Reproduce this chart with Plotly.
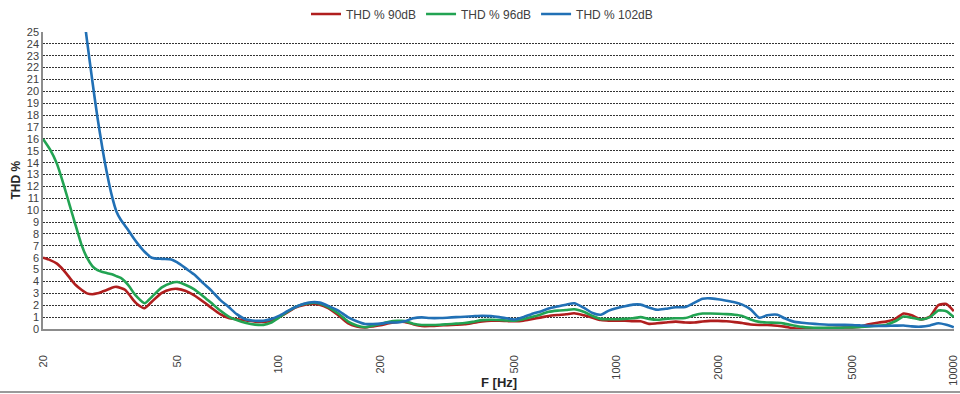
import plotly.graph_objects as go
import math

freq_hz = [20, 21, 22, 23, 24, 25, 26, 27, 28, 29, 30, 31, 32, 33, 34, 35, 36, 37, 38,
           40, 42, 45, 48, 50, 53, 56, 60, 63, 67, 71, 75, 80, 85, 90, 95,
           100, 106, 112, 118, 125, 132, 140, 150, 160, 170, 180, 190, 200, 212, 224, 236,
           250, 265, 280, 300, 315, 335, 355, 375, 400, 425, 450, 475, 500, 530, 560, 600,
           630, 670, 710, 750, 800, 850, 900, 950,
           1000, 1060, 1120, 1180, 1250, 1320, 1400, 1500, 1600, 1700, 1800, 1900, 2000,
           2120, 2240, 2360, 2500, 2650, 2800, 3000, 3150, 3350, 3550, 3750, 4000, 4250,
           4500, 4750, 5000, 5300, 5600, 6000, 6300, 6700, 7100, 7500, 8000, 8500, 9000,
           9500, 10000]

thd_90db = [6.0, 5.8, 5.5, 4.95, 4.3, 3.7, 3.3, 3.0, 2.93, 3.0, 3.15, 3.3, 3.48, 3.55, 3.45, 3.3, 2.9, 2.45, 2.1,
            1.75, 2.3, 3.05, 3.35, 3.38, 3.2, 2.85, 2.25, 1.8, 1.25, 0.92, 0.82, 0.72, 0.62, 0.6, 0.7,
            1.0, 1.4, 1.8, 2.0, 2.1, 2.05, 1.75, 1.15, 0.5, 0.22, 0.14, 0.22, 0.32, 0.48, 0.6, 0.6,
            0.4, 0.25, 0.25, 0.3, 0.33, 0.36, 0.4, 0.5, 0.63, 0.7, 0.7, 0.67, 0.65, 0.7, 0.82, 0.98,
            1.1, 1.18, 1.24, 1.32, 1.15, 0.95, 0.75, 0.7,
            0.7, 0.7, 0.66, 0.65, 0.43, 0.48, 0.55, 0.62, 0.55, 0.55, 0.63, 0.68, 0.68,
            0.65, 0.58, 0.5, 0.38, 0.34, 0.34, 0.27, 0.2, 0.06, 0.03, 0.02, 0.05, 0.07,
            0.1, 0.12, 0.14, 0.2, 0.4, 0.55, 0.62, 0.85, 1.3, 1.15, 0.8, 1.05, 2.0,
            2.1, 1.5]

thd_96db = [16.0, 15.1, 13.9, 12.2, 10.4, 8.7, 7.1, 6.0, 5.3, 4.95, 4.8, 4.7, 4.6, 4.45, 4.3, 4.0, 3.6, 3.1, 2.7,
            2.17, 2.7, 3.5, 3.88, 3.95, 3.7, 3.35, 2.7, 2.2, 1.55, 1.05, 0.75, 0.5, 0.37, 0.35, 0.55,
            0.95, 1.45, 1.85, 2.08, 2.2, 2.15, 1.85, 1.3, 0.65, 0.3, 0.15, 0.28, 0.42, 0.6, 0.68, 0.68,
            0.45, 0.34, 0.34, 0.36, 0.4, 0.45, 0.5, 0.6, 0.75, 0.78, 0.76, 0.72, 0.7, 0.82, 1.0, 1.25,
            1.45, 1.55, 1.6, 1.66, 1.45, 1.1, 0.85, 0.82,
            0.82, 0.85, 0.9, 1.0, 0.85, 0.78, 0.85, 0.9, 0.92, 1.15, 1.3, 1.3, 1.28,
            1.25, 1.2, 1.1, 0.8, 0.6, 0.55, 0.52, 0.45, 0.3, 0.18, 0.12, 0.1, 0.1,
            0.1, 0.12, 0.14, 0.18, 0.22, 0.28, 0.34, 0.65, 1.05, 0.95, 0.8, 1.0, 1.55,
            1.5, 1.0]

freq_hz_102 = freq_hz[6:]
thd_102db = [28.0, 24.3, 20.9, 17.8, 15.2, 13.0, 11.2, 9.9, 9.2, 8.7, 8.2, 7.7, 7.25,
             6.5, 6.0, 5.9, 5.85, 5.6, 5.1, 4.6, 3.8, 3.25, 2.45, 1.85, 1.25, 0.8, 0.7, 0.7, 0.85,
             1.1, 1.5, 1.85, 2.1, 2.25, 2.22, 1.95, 1.55, 1.0, 0.65, 0.42, 0.42, 0.45, 0.55, 0.55, 0.65,
             0.9, 0.98, 0.92, 0.92, 0.95, 1.0, 1.03, 1.07, 1.12, 1.08, 1.0, 0.9, 0.8, 1.0, 1.25, 1.5,
             1.72, 1.9, 2.05, 2.17, 1.8, 1.35, 1.2, 1.55,
             1.75, 1.92, 2.05, 2.05, 1.8, 1.62, 1.7, 1.83, 1.85, 2.2, 2.55, 2.58, 2.5,
             2.38, 2.25, 2.05, 1.65, 0.95, 1.15, 1.2, 0.9, 0.62, 0.52, 0.46, 0.4, 0.36,
             0.35, 0.35, 0.34, 0.3, 0.26, 0.25, 0.26, 0.28, 0.3, 0.22, 0.2, 0.3, 0.48,
             0.35, 0.14]

x_tick_vals = [20, 50, 100, 200, 500, 1000, 2000, 5000, 10000]
x_tick_text = ["20", "50", "100", "200", "500", "1000", "2000", "5000", "10000"]
y_tick_vals = list(range(0, 26))

series = [
    ("THD % 90dB", freq_hz, thd_90db, "#B01E1E"),
    ("THD % 96dB", freq_hz, thd_96db, "#22A352"),
    ("THD % 102dB", freq_hz_102, thd_102db, "#2170B5"),
]

FONT = "Liberation Sans, Arial, sans-serif"
W, H = 960, 394
L, R, T, B = 43, 6, 32, 65
pw, ph = W - L - R, H - T - B

fig = go.Figure()
for name, xs, ys, col in series:
    fig.add_trace(go.Scatter(x=xs, y=ys, name=name, mode="lines",
                             line=dict(color=col, width=2.6, shape="spline", smoothing=0.6)))

fig.update_layout(
    width=W, height=H,
    margin=dict(l=L, r=R, t=T, b=B, autoexpand=False),
    paper_bgcolor="white", plot_bgcolor="white",
    font=dict(family=FONT, size=11, color="#404040"),
    showlegend=True,
    legend=dict(orientation="h", x=(482 - L) / pw, xanchor="center", y=1 + (T - 14) / ph,
                yanchor="middle", font=dict(family=FONT, size=12, color="#404040"),
                itemwidth=30, tracegroupgap=0),
    xaxis=dict(type="log", range=[math.log10(20), math.log10(10000) + 0.0005],
               tickvals=x_tick_vals, ticktext=x_tick_text, tickangle=-90,
               showgrid=False, zeroline=False, showline=True, linecolor="#8c8c8c", linewidth=1.5,
               ticks="", ticklabelstandoff=20, automargin=False, ticklabeloverflow="allow",
               tickfont=dict(family=FONT, size=11, color="#404040")),
    yaxis=dict(range=[0, 25], tickvals=y_tick_vals, showgrid=True, gridcolor="#333333",
               griddash="2px,1px", gridwidth=1, zeroline=False, showline=True,
               linecolor="#8c8c8c", linewidth=1.5, ticks="", automargin=False,
               tickfont=dict(family=FONT, size=11, color="#404040")),
    annotations=[
        dict(text="<b>F [Hz]</b>", xref="paper", yref="paper", x=0.5, y=-(382 - (T + ph)) / ph,
             xanchor="center", yanchor="middle", showarrow=False,
             font=dict(family=FONT, size=13, color="#262626")),
        dict(text="<b>THD %</b>", xref="paper", yref="paper", x=(15 - L) / pw, y=0.5,
             xanchor="center", yanchor="middle", textangle=-90, showarrow=False,
             font=dict(family=FONT, size=12, color="#262626")),
    ],
    shapes=[dict(type="line", xref="paper", yref="paper", x0=-L / pw, x1=(W - L) / pw,
                 y0=-(392 - (T + ph)) / ph, y1=-(392 - (T + ph)) / ph,
                 line=dict(color="#9a9a9a", width=2))],
)

fig.write_html("out.html", config={"displayModeBar": False},
               post_script="document.body.style.margin='0';document.body.style.overflow='hidden';")
